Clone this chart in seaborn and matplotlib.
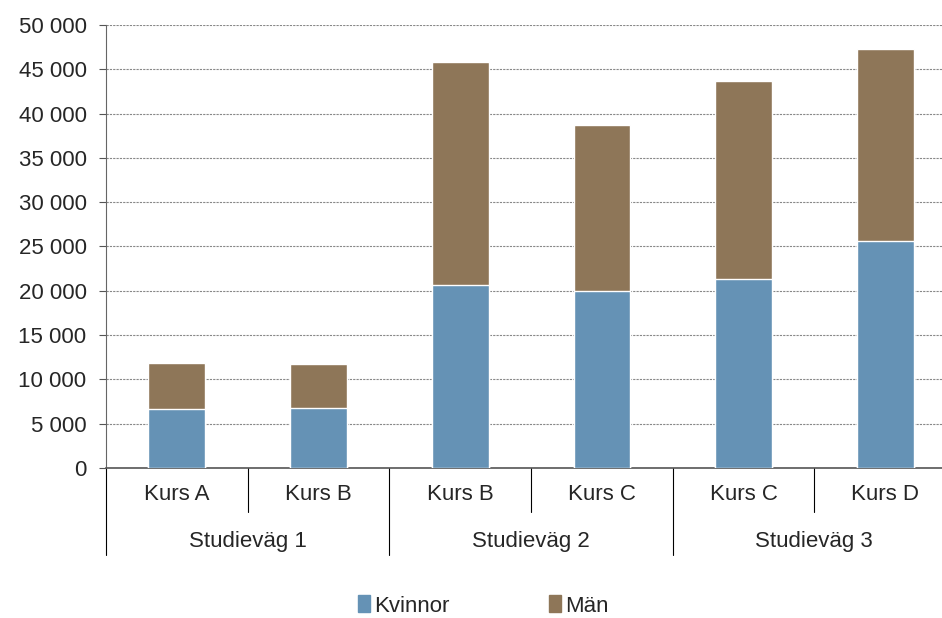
import pandas as pd
import matplotlib.pyplot as plt
import matplotlib.transforms as mtransforms
from matplotlib.patches import Patch
from matplotlib.ticker import FuncFormatter
import seaborn as sns

# Data
groups = ['Studieväg 1', 'Studieväg 2', 'Studieväg 3']
courses = ['Kurs A', 'Kurs B', 'Kurs B', 'Kurs C', 'Kurs C', 'Kurs D']
course_group = [0, 0, 1, 1, 2, 2]
kvinnor = [6700, 6800, 20700, 20000, 21300, 25600]
man = [5200, 4900, 25100, 18700, 22400, 21700]

blue = '#6592b5'
brown = '#8e7658'

sns.set_style('white')
plt.rcParams['font.family'] = ['Liberation Sans', 'DejaVu Sans']
fs = 16

df = pd.DataFrame({
    'pos': [str(i) for i in range(len(courses))],
    'Kvinnor': kvinnor,
    'Män': man,
})
df['Total'] = df['Kvinnor'] + df['Män']

fig = plt.figure(figsize=(9.42, 6.18), dpi=100)
ax = fig.add_axes([106 / 942, 1 - 468 / 618, 850 / 942, 443 / 618])

sns.barplot(data=df, x='pos', y='Total', color=brown, width=0.4,
            saturation=1, ax=ax, zorder=3)
sns.barplot(data=df, x='pos', y='Kvinnor', color=blue, width=0.4,
            saturation=1, ax=ax, zorder=4)

ax.set_xlim(-0.5, len(courses) - 0.5)
ax.set_ylim(0, 50000)
ax.set_yticks(range(0, 50001, 5000))
ax.yaxis.set_major_formatter(FuncFormatter(lambda v, p: f'{int(v):,}'.replace(',', ' ')))
ax.tick_params(axis='y', labelsize=fs, length=5, direction='out', left=True,
               color='#555555', pad=9)
ax.set_xticks([])
ax.set_xlabel('')
ax.set_ylabel('')
ax.grid(axis='y', color='#888888', linestyle=(0, (2, 1)), linewidth=0.8, zorder=0)

for side in ['top', 'right']:
    ax.spines[side].set_visible(False)
ax.spines['left'].set_color('#666666')
ax.spines['bottom'].set_color('#555555')
ax.spines['bottom'].set_linewidth(1.2)

# Two-level category axis
trans = mtransforms.blended_transform_factory(ax.transData, ax.transAxes)
px = 1 / 443
for i, c in enumerate(courses):
    ax.text(i, -26 * px, c, transform=trans, ha='center', va='center', fontsize=fs)
for i in range(len(courses) - 1):
    if course_group[i] == course_group[i + 1]:
        ax.plot([i + 0.5, i + 0.5], [0, -44 * px], transform=trans,
                color='black', lw=0.8, clip_on=False)
for g, name in enumerate(groups):
    idx = [i for i, cg in enumerate(course_group) if cg == g]
    ax.text(sum(idx) / len(idx), -74 * px, name, transform=trans,
            ha='center', va='center', fontsize=fs)
    ax.plot([idx[0] - 0.5, idx[0] - 0.5], [0, -87 * px], transform=trans,
            color='black', lw=0.8, clip_on=False)

handles = [Patch(color=blue, label='Kvinnor'), Patch(color=brown, label='Män')]
fig.legend(handles=handles, loc='center', bbox_to_anchor=(0.513, 1 - 606 / 618),
           ncol=2, frameon=False, fontsize=fs, handlelength=0.55, handleheight=0.8,
           handletextpad=0.15, columnspacing=4.5)

fig.savefig('out.png', dpi=100)
